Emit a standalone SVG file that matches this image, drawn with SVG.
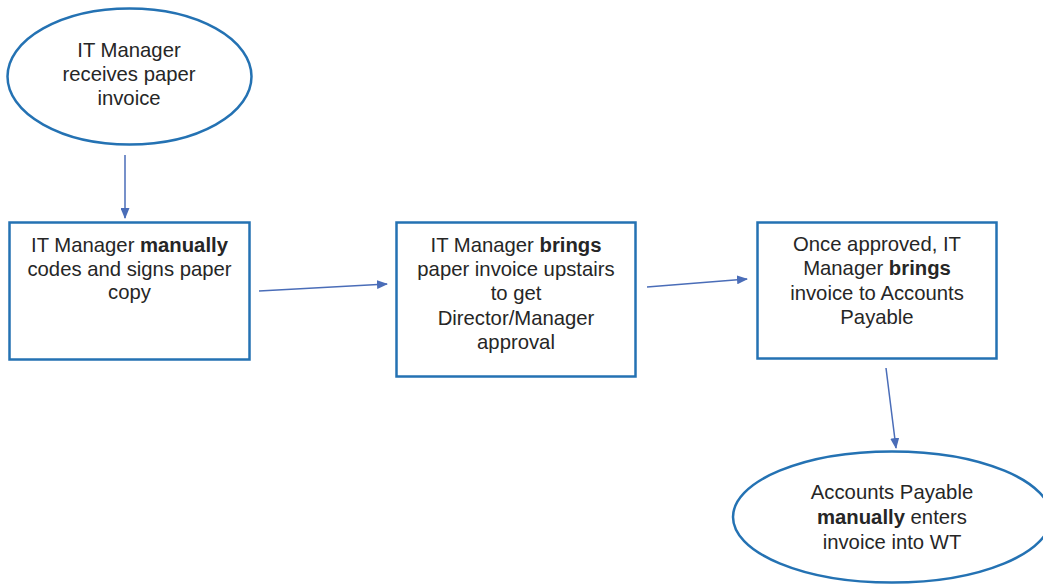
<svg xmlns="http://www.w3.org/2000/svg" width="1043" height="588" viewBox="0 0 1043 588">
<style>
.shape{fill:#ffffff;stroke:#2472B3;stroke-width:2.5}
.t{font-family:"Liberation Sans",Arial,sans-serif;font-size:20.3px;fill:#262626;text-anchor:middle}
.b{font-weight:bold}
.c{stroke:#4A6DB8;stroke-width:1.5;fill:none;marker-end:url(#ah)}
</style>
<defs>
<marker id="ah" markerWidth="11" markerHeight="9" refX="10" refY="4.5" orient="auto" markerUnits="userSpaceOnUse">
<path d="M0,0 L11,4.5 L0,9 Z" fill="#4A6DB8"/>
</marker>
</defs>
<rect width="1043" height="588" fill="#ffffff"/>
<g id="connectors">
<line class="c" x1="125" y1="155" x2="125" y2="218"/>
<line class="c" x1="259" y1="291" x2="387" y2="284"/>
<line class="c" x1="647" y1="287" x2="747" y2="279"/>
<line class="c" x1="886" y1="368" x2="896" y2="448"/>
</g>
<g id="n1">
<ellipse class="shape" cx="129.5" cy="76.5" rx="122" ry="68"/>
<text class="t" x="129" y="57">IT Manager</text>
<text class="t" x="129" y="81">receives paper</text>
<text class="t" x="129" y="105">invoice</text>
</g>
<g id="n2">
<rect class="shape" x="9.5" y="222.5" width="240" height="137"/>
<text class="t" x="129.5" y="252">IT Manager <tspan class="b">manually</tspan></text>
<text class="t" x="129.5" y="275.5">codes and signs paper</text>
<text class="t" x="129.5" y="299">copy</text>
</g>
<g id="n3">
<rect class="shape" x="396.5" y="222.5" width="239" height="154"/>
<text class="t" x="516" y="252">IT Manager <tspan class="b">brings</tspan></text>
<text class="t" x="516" y="276">paper invoice upstairs</text>
<text class="t" x="516" y="300">to get</text>
<text class="t" x="516" y="325">Director/Manager</text>
<text class="t" x="516" y="349">approval</text>
</g>
<g id="n4">
<rect class="shape" x="757.5" y="222.5" width="239" height="136"/>
<text class="t" x="877" y="251">Once approved, IT</text>
<text class="t" x="877" y="275">Manager <tspan class="b">brings</tspan></text>
<text class="t" x="877" y="300">invoice to Accounts</text>
<text class="t" x="877" y="324">Payable</text>
</g>
<g id="n5">
<ellipse class="shape" cx="892" cy="517" rx="159" ry="65.5"/>
<text class="t" x="892" y="499">Accounts Payable</text>
<text class="t" x="892" y="524"><tspan class="b">manually</tspan> enters</text>
<text class="t" x="892" y="549">invoice into WT</text>
</g>
</svg>
